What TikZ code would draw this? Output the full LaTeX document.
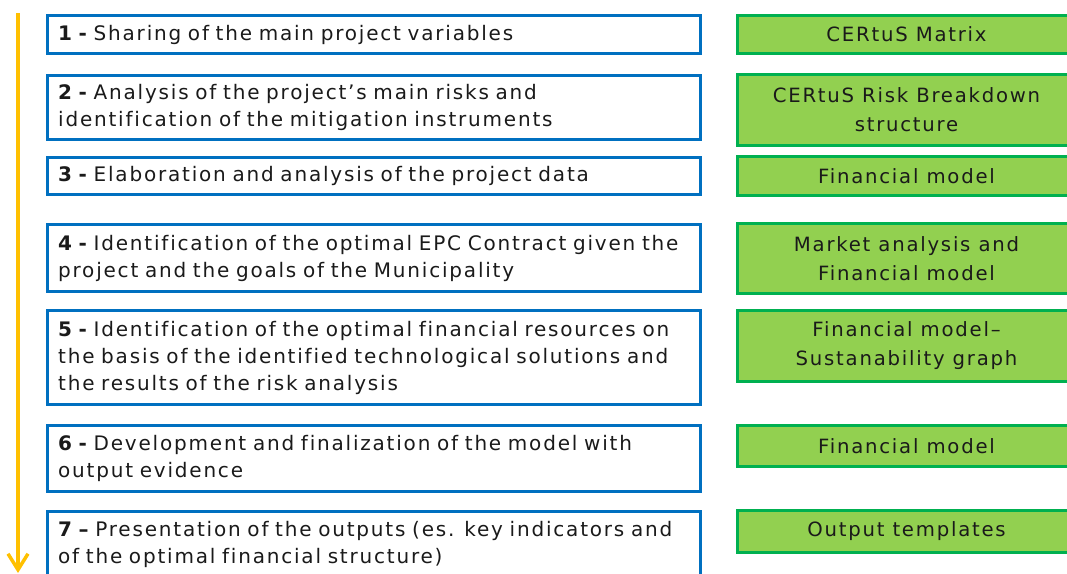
\documentclass[tikz,border=0pt]{standalone}
\usepackage{fontspec}
\setmainfont[LetterSpace=9,Ligatures=CommonOff]{DejaVu Sans}
\usepackage{tikz}
\usetikzlibrary{arrows.meta}
\usepackage{xcolor}
\definecolor{ColStep}{RGB}{0,112,192}
\definecolor{ColTool}{RGB}{0,176,80}
\definecolor{ColToolFill}{RGB}{146,208,80}
\definecolor{ColFlow}{RGB}{255,192,0}
\definecolor{ColText}{RGB}{26,26,26}
\tikzstyle{StepBox}=[draw=ColStep,line width=2.25pt,anchor=north west,inner xsep=8pt,
text width=474pt,align=left,text=ColText,font=\fontsize{15}{20.25}\selectfont]
\tikzstyle{ToolBox}=[draw=ColTool,fill=ColToolFill,line width=2.25pt,anchor=north west,
minimum width=253.5pt,align=center,text=ColText,font=\fontsize{14.75}{21.75}\selectfont]
\tikzstyle{FlowArrow}=[ColFlow,line width=2.6pt,-{Straight Barb[length=12pt,width=15pt]}]
\begin{document}
\begin{tikzpicture}[x=0.75pt,y=-0.75pt]
        \useasboundingbox (0,0) rectangle (1067,574);
        % steps
        \node[StepBox,minimum height=28.5pt](s1)at(46,14){\textbf{1 -} Sharing of the main project variables};
        \node[StepBox,minimum height=48pt](s2)at(46,74){\textbf{2 -} Analysis of the project’s main risks and\\identification of the mitigation instruments};
        \node[StepBox,minimum height=27.75pt](s3)at(46,156){\textbf{3 -} Elaboration and analysis of the project data};
        \node[StepBox,minimum height=50.25pt](s4)at(46,223){\textbf{4 -} Identification of the optimal EPC Contract given the\\project and the goals of the Municipality};
        \node[StepBox,minimum height=70.5pt](s5)at(46,309){\textbf{5 -} Identification of the optimal financial resources on\\the basis of the identified technological solutions and\\the results of the risk analysis};
        \node[StepBox,minimum height=49.5pt](s6)at(46,424){\textbf{6 -} Development and finalization of the model with\\output evidence};
        \node[StepBox,minimum height=48.75pt](s7)at(46,510){\textbf{7 –} Presentation of the outputs (es. key indicators and\\of the optimal financial structure)};
        % tools
        \node[ToolBox,minimum height=28.5pt](t1)at(736,14){CERtuS Matrix};
        \node[ToolBox,minimum height=53.25pt](t2)at(736,73){CERtuS Risk Breakdown\\structure};
        \node[ToolBox,minimum height=29.25pt](t3)at(736,155){Financial model};
        \node[ToolBox,minimum height=52.5pt](t4)at(736,222){Market analysis and\\Financial model};
        \node[ToolBox,minimum height=53.25pt](t5)at(736,309){Financial model–\\Sustanability graph};
        \node[ToolBox,minimum height=30.75pt](t6)at(736,424){Financial model};
        \node[ToolBox,minimum height=31.5pt](t7)at(736,509){Output templates};
        % flow
        \coordinate(f0)at(18,13);
        \coordinate(f1)at(18,573);
        \draw[FlowArrow](f0)--(f1);
    \end{tikzpicture}
\end{document}
